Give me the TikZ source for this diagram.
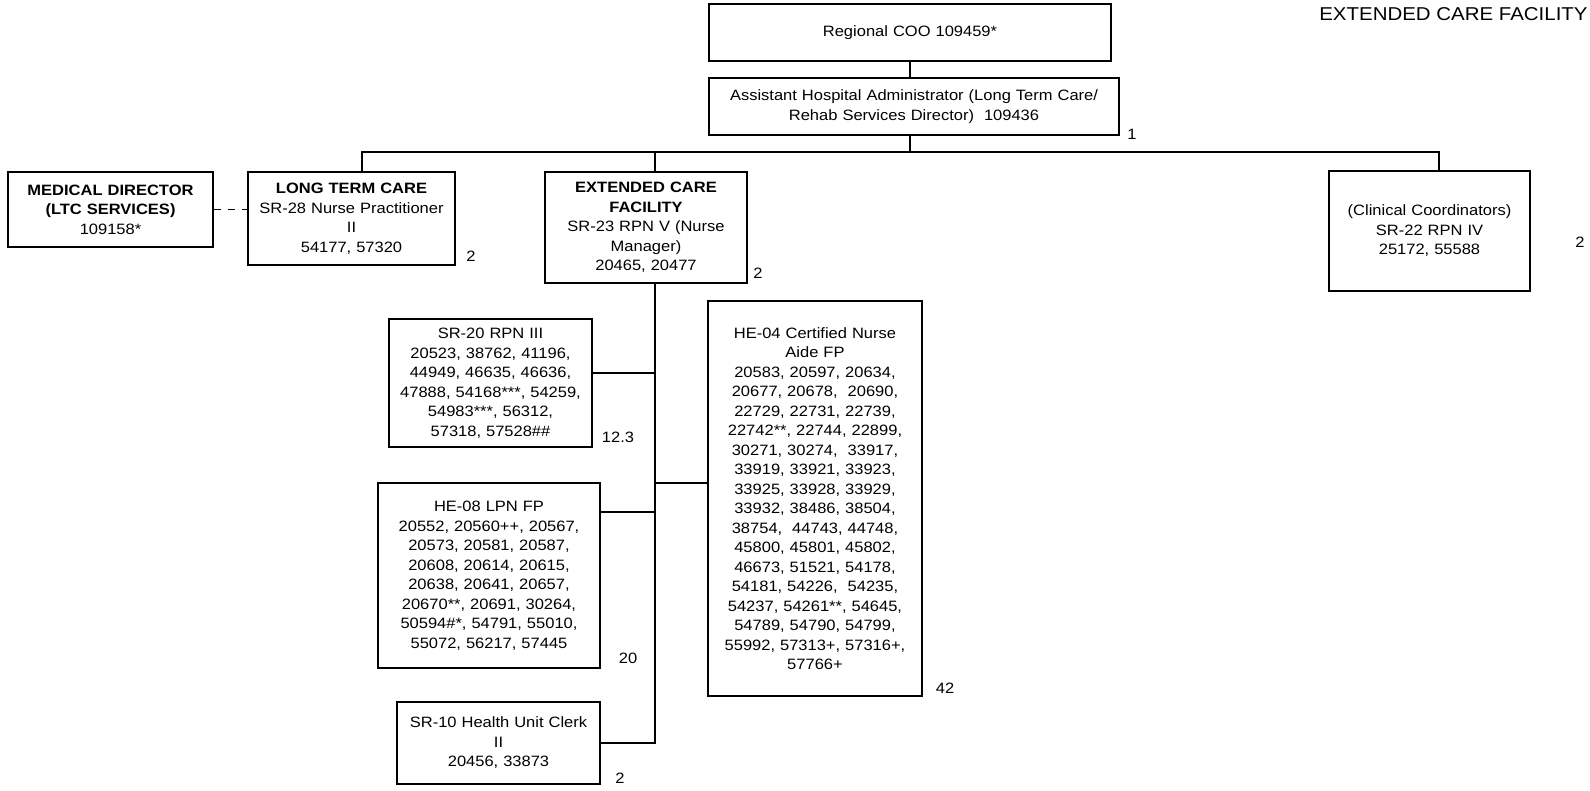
\documentclass[tikz,border=0pt]{standalone}
\usepackage{fontspec}
\setmainfont{Liberation Sans}[FakeStretch=1.1]
\begin{document}
\begin{tikzpicture}[
			x=0.5pt, y=-0.5pt,
			font=\fontsize{7.5}{9.75}\selectfont,
			% boites et liens
			poste/.style 2 args={draw=black, line width=1pt, inner sep=0pt, align=center, text width=#1, minimum height=#2},
			lien/.style={line width=0.75pt},
			pointille/.style={line width=0.75pt, dash pattern=on 3.5pt off 3.5pt},
			effectif/.style={inner sep=0pt},
			]

			\useasboundingbox (0,0) rectangle (1590,791);

			\node[anchor=east, inner sep=0pt, font=\fontsize{9.3}{11}\selectfont] (titre) at (1588,14) {EXTENDED CARE FACILITY};

			\node[poste={201pt}{28.5pt}] (COO) at (910,32.5) {Regional COO 109459*};
			\node[poste={205pt}{28.5pt}] (ASST) at (914,106.5) {Assistant Hospital Administrator (Long Term Care/\\Rehab Services Director)\ \ 109436};

			\node[poste={102.5pt}{37.5pt}] (MED) at (110.5,209.5) {\textbf{MEDICAL DIRECTOR}\\\textbf{(LTC SERVICES)}\\109158*};
			\node[poste={103.5pt}{46.5pt}] (LTC) at (351.5,218.5) {\textbf{LONG TERM CARE}\\SR-28 Nurse Practitioner\\II\\54177, 57320};
			\node[poste={101pt}{55.5pt}] (ECF) at (646,227.5) {\textbf{EXTENDED CARE}\\\textbf{FACILITY}\\SR-23 RPN V (Nurse\\Manager)\\20465, 20477};
			\node[poste={100.5pt}{60pt}] (CC) at (1429.5,231) {(Clinical Coordinators)\\SR-22 RPN IV\\25172, 55588};

			\node[poste={101.5pt}{64pt}] (SR20) at (490.5,383) {SR-20 RPN III\\20523, 38762, 41196,\\44949, 46635, 46636,\\47888, 54168***, 54259,\\54983***, 56312,\\57318, 57528\#\#};
			\node[poste={107pt}{197.5pt}] (HE04) at (815,498.5) {HE-04 Certified Nurse\\Aide FP\\20583, 20597, 20634,\\20677, 20678,\ \ 20690,\\22729, 22731, 22739,\\22742**, 22744, 22899,\\30271, 30274,\ \ 33917,\\33919, 33921, 33923,\\33925, 33928, 33929,\\33932, 38486, 38504,\\38754,\ \ 44743, 44748,\\45800, 45801, 45802,\\46673, 51521, 54178,\\54181, 54226,\ \ 54235,\\54237, 54261**, 54645,\\54789, 54790, 54799,\\55992, 57313+, 57316+,\\57766+};
			\node[poste={111pt}{92.5pt}] (HE08) at (489,575.5) {HE-08 LPN FP\\20552, 20560++, 20567,\\20573, 20581, 20587,\\20608, 20614, 20615,\\20638, 20641, 20657,\\20670**, 20691, 30264,\\50594\#*, 54791, 55010,\\55072, 56217, 57445};
			\node[poste={101.5pt}{41pt}] (SR10) at (498.5,743) {SR-10 Health Unit Clerk\\II\\20456, 33873};

			% effectifs
			\node[effectif] (nASST) at (1132,134) {1};
			\node[effectif] (nLTC) at (471,256) {2};
			\node[effectif] (nECF) at (758,273) {2};
			\node[effectif] (nCC) at (1580,242) {2};
			\node[effectif] (nSR20) at (618,437) {12.3};
			\node[effectif] (nHE08) at (628,658) {20};
			\node[effectif] (nSR10) at (620,778) {2};
			\node[effectif] (nHE04) at (945,688) {42};

			\coordinate (busL) at (362,152);
			\coordinate (busR) at (1439,152);
			\coordinate (tronc) at (655,283);
			\coordinate (jSR20) at (655,373);
			\coordinate (jHE04) at (655,483);
			\coordinate (jHE08) at (655,512);

			\draw[lien] (COO.south) -- (COO.south |- ASST.north);
			\draw[lien] (COO.south |- ASST.south) -- (COO.south |- busL);
			\draw[lien] (busL |- LTC.north) -- (busL) -- (busR) -- (busR |- CC.north);
			\draw[lien] (tronc |- busL) -- (tronc |- ECF.north);
			\draw[pointille] (MED.east) -- (MED.east -| LTC.west);

			\draw[lien] (tronc |- ECF.south) -- (tronc |- SR10.east) -- (SR10.east);
			\draw[lien] (jSR20) -- (jSR20 -| SR20.east);
			\draw[lien] (jHE04) -- (jHE04 -| HE04.west);
			\draw[lien] (jHE08) -- (jHE08 -| HE08.east);

		\end{tikzpicture}
\end{document}
